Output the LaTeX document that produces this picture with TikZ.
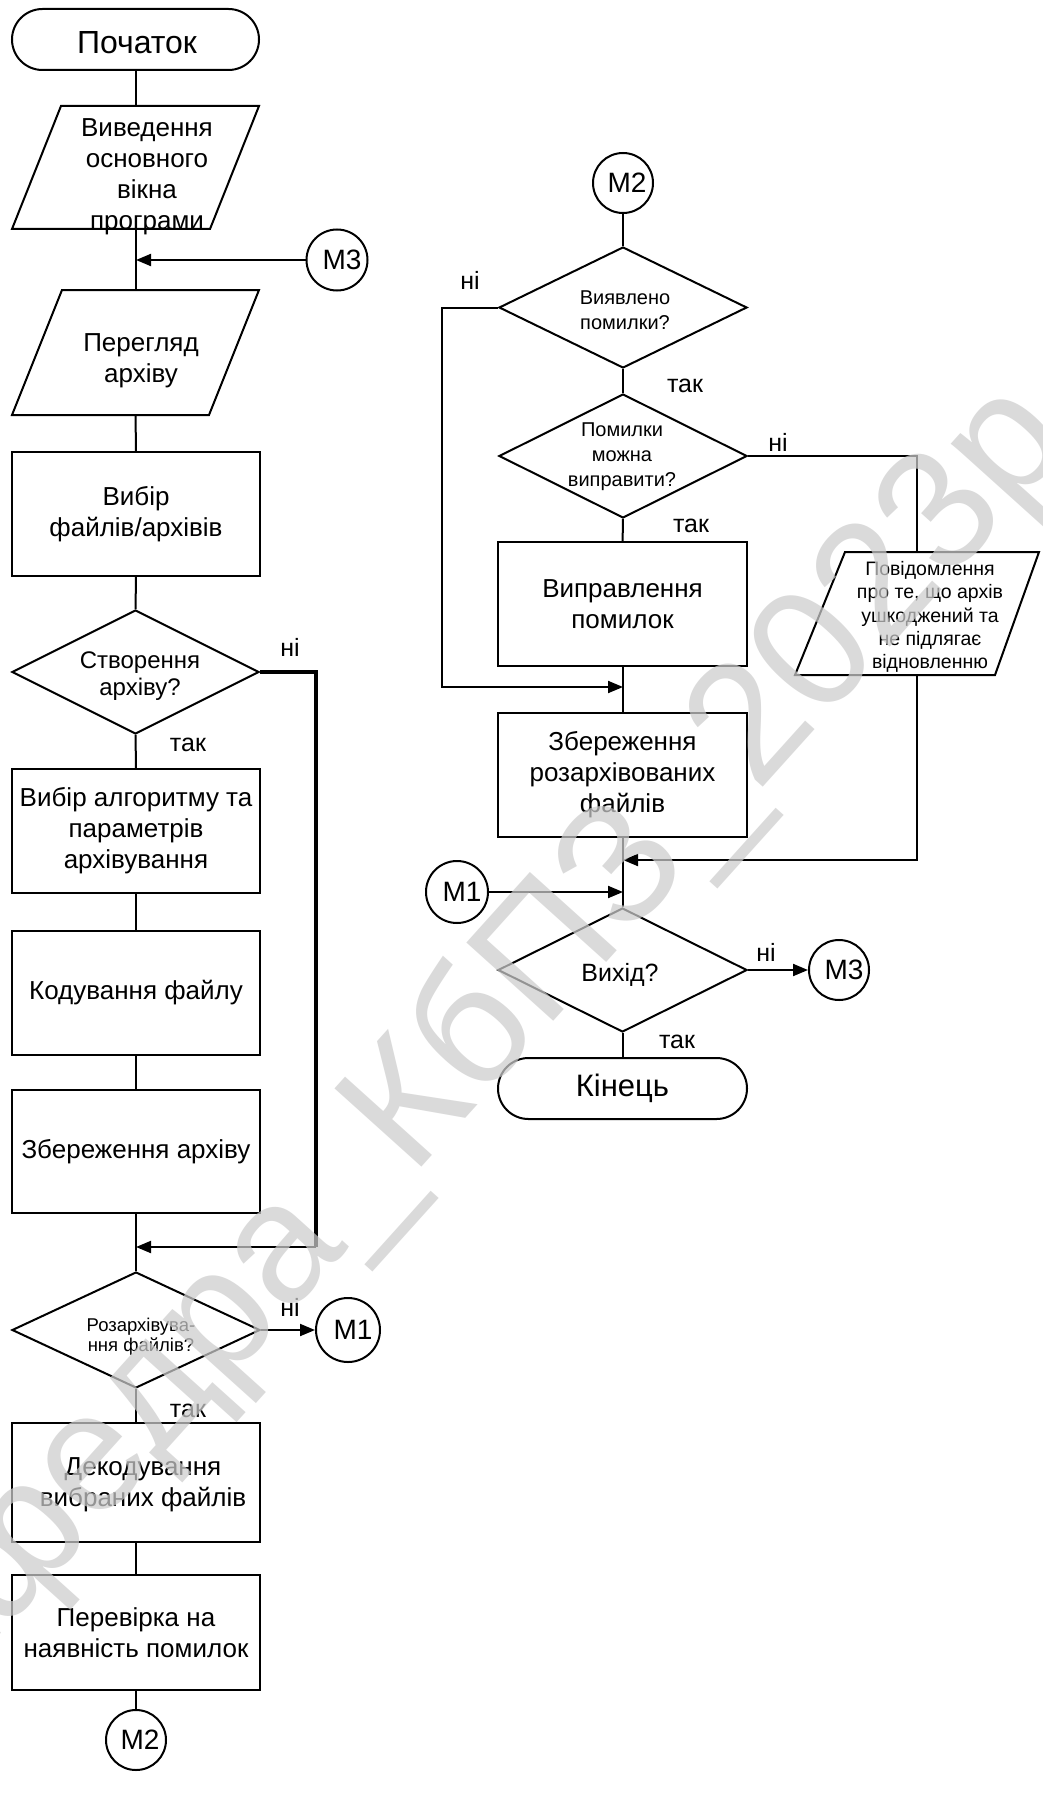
\documentclass[tikz,border=0pt]{standalone}
\usepackage{fontspec}
\setmainfont{Liberation Sans}
\usetikzlibrary{shapes.geometric,arrows.meta,calc}
\begin{document}
\begin{tikzpicture}[x=1pt,y=-1pt, line join=miter,
  shp/.style={draw,line width=2pt,align=center,inner sep=2pt},
  term/.style={shp,rectangle,rounded corners=30.5pt,minimum height=61pt,font=\fontsize{31}{36}\selectfont},
  proc/.style={shp,rectangle,minimum width=248pt,minimum height=124pt,font=\fontsize{26}{31}\selectfont},
  dia/.style={shp,diamond,minimum width=248pt,minimum height=124pt,inner sep=0pt},
  hold/.style={rectangle,inner sep=0pt,outer sep=0pt},
  conn/.style={shp,circle,minimum size=61pt,inner sep=0pt},
  ctext/.style={font=\fontsize{28}{30}\selectfont},
  txt/.style={align=center,inner sep=0pt},
  big/.style={txt,font=\fontsize{26}{31}\selectfont},
  mid/.style={txt,font=\fontsize{24}{27}\selectfont},
  sml/.style={txt,font=\fontsize{20}{25}\selectfont},
  lab/.style={font=\fontsize{25}{28}\selectfont,inner sep=0pt},
  ln/.style={line width=2pt},
  arr/.style={line width=2pt,-{Triangle[length=15pt,width=12pt]}},
]
\fill[white] (0,0) rectangle (1043,1803);
\useasboundingbox (0,0) rectangle (1043,1803);

% ---------------- left column ----------------
\node[term,minimum width=247pt] (start) at (135.5,39.5) {};
\node[txt,font=\fontsize{32}{36}\selectfont] (startt) at (137,43) {Початок};

\node[hold,minimum width=247pt,minimum height=123pt] (p1) at (135.5,167.5) {};
\draw[ln] (p1.south west) -- ($(p1.north west)+(49,0)$) -- (p1.north east) -- ($(p1.south east)+(-49,0)$) -- cycle;
\node[big] (p1t) at (147,177) {Виведення\\основного\\вікна\\програми};

\node[conn,label={[ctext,xshift=5pt]center:М3}] (m3a) at (337,260) {};
\coordinate (j1) at (136,260);

\node[hold,minimum width=247pt,minimum height=125pt] (p2) at (135.5,352.5) {};
\draw[ln] (p2.south west) -- ($(p2.north west)+(50,0)$) -- (p2.north east) -- ($(p2.south east)+(-50,0)$) -- cycle;
\node[big] (p2t) at (141,361) {Перегляд\\архіву};

\node[proc] (b1) at (136,514) {Вибір\\файлів/архівів};

\node[dia,minimum width=247pt] (d1) at (135.5,672) {};
\node[mid] (d1t) at (140,676) {Створення\\архіву?};

\node[proc] (b2) at (136,831) {Вибір алгоритму та\\параметрів\\архівування};
\node[proc] (b3) at (136,993) {Кодування файлу};
\node[proc,minimum height=123pt] (b4) at (136,1151.5) {Збереження архіву};

\coordinate (j2) at (136,1247);
\coordinate (c1) at (316,1247);

\node[dia,minimum height=116pt] (d2) at (136,1330) {};
\node[txt,font=\fontsize{18.5}{20}\selectfont] (d2t) at (141,1337) {Розархівува-\\ння файлів?};

\node[conn,minimum size=64pt,label={[ctext,xshift=5pt]center:М1}] (m1a) at (348,1330) {};

\node[proc,minimum height=119pt] (b5) at (136,1482.5) {};
\node[big] (b5t) at (143,1485) {Декодування\\вибраних файлів};
\node[proc,minimum height=115pt] (b6) at (136,1632.5) {Перевірка на\\наявність помилок};

\node[conn,minimum size=60pt,label={[ctext,xshift=4pt]center:М2}] (m2a) at (136,1740) {};

% labels left
\node[lab] (n1) at (290,647) {ні};
\node[lab] (t1) at (188,745) {так};
\node[lab] (n2) at (290,1307) {ні};
\node[lab] (t2) at (188,1411) {так};

% connectors left
\draw[ln] (start) -- (p1);
\draw[ln] (p1) -- (p2);
\draw[arr] (m3a) -- (j1);
\draw[ln] (p2) -- (b1);
\draw[ln] (b1) -- (d1);
\draw[ln] (d1) -- (b2);
\draw[ln] (b2) -- (b3);
\draw[ln] (b3) -- (b4);
\draw[ln] (b4) -- (d2);
\draw[line width=4pt] (d1.east) -| (c1);
\draw[arr] (c1) -- (j2);
\draw[arr] (d2.east) -- (m1a);
\draw[ln] (d2) -- (b5);
\draw[ln] (b5) -- (b6);
\draw[ln] (b6) -- (m2a);

% ---------------- right column ----------------
\node[conn,minimum size=60pt,label={[ctext,xshift=4pt]center:М2}] (m2b) at (623,183) {};

\node[dia,minimum height=121pt] (d3) at (623,307.5) {};
\node[sml] (d3t) at (625,310) {Виявлено\\помилки?};

\node[dia] (d4) at (623,456) {};
\node[sml] (d4t) at (622,457) {Помилки\\можна\\виправити?};

\node[proc,minimum width=249pt] (b7) at (622.5,604) {Виправлення\\помилок};
\coordinate (j3) at (623,687);
\coordinate (c3) at (442,687);
\node[proc,minimum width=249pt] (b8) at (622.5,775) {Збереження\\розархівованих\\файлів};

\node[hold,minimum width=244pt,minimum height=123pt] (p3) at (917,613.5) {};
\draw[ln] (p3.south west) -- ($(p3.north west)+(50,0)$) -- (p3.north east) -- ($(p3.south east)+(-44,0)$) -- cycle;
\node[txt,font=\fontsize{19.5}{23.3}\selectfont] (p3t) at (930,617) {Повідомлення\\про те, що архів\\ушкоджений та\\не підлягає\\відновленню};

\coordinate (j4) at (623,860);
\node[conn,minimum size=62pt,label={[ctext,xshift=5pt]center:М1}] (m1b) at (457,892) {};
\coordinate (j5) at (623,892);

\node[dia,minimum width=249pt] (d5) at (622.5,970) {};
\node[txt,font=\fontsize{25}{28}\selectfont] (d5t) at (620,975) {Вихід?};

\node[conn,minimum size=60pt,label={[ctext,xshift=5pt]center:М3}] (m3b) at (839,970) {};

\node[term,minimum width=249pt] (fin) at (622.5,1088.5) {Кінець};

% labels right
\node[lab] (n3) at (470,280) {ні};
\node[lab] (t3) at (685,386) {так};
\node[lab] (n4) at (778,442) {ні};
\node[lab] (t4) at (691,526) {так};
\node[lab] (n5) at (766,952) {ні};
\node[lab] (t5) at (677,1042) {так};

% connectors right
\draw[ln] (m2b) -- (d3);
\draw[ln] (d3) -- (d4);
\draw[ln] (d4) -- (b7);
\draw[ln] (b7) -- (b8);
\draw[arr] (d3.west) -| (c3) -- (j3);
\draw[ln] (d4.east) -| (p3.north);
\draw[arr] (p3.south) |- (j4);
\draw[arr] (m1b) -- (j5);
\draw[ln] (b8) -- (d5);
\draw[arr] (d5.east) -- (m3b);
\draw[ln] (d5) -- (fin);

% ---------------- watermark ----------------
\begin{scope}
\clip (0,0) rectangle (1043,1803);
\node[rotate=48,text=black!20,text opacity=0.72,inner sep=0pt,font=\fontsize{170}{170}\selectfont] (wm) at (440,1080) {Кафедра\_КбПЗ\_2023р};
\end{scope}
\end{tikzpicture}
\end{document}
